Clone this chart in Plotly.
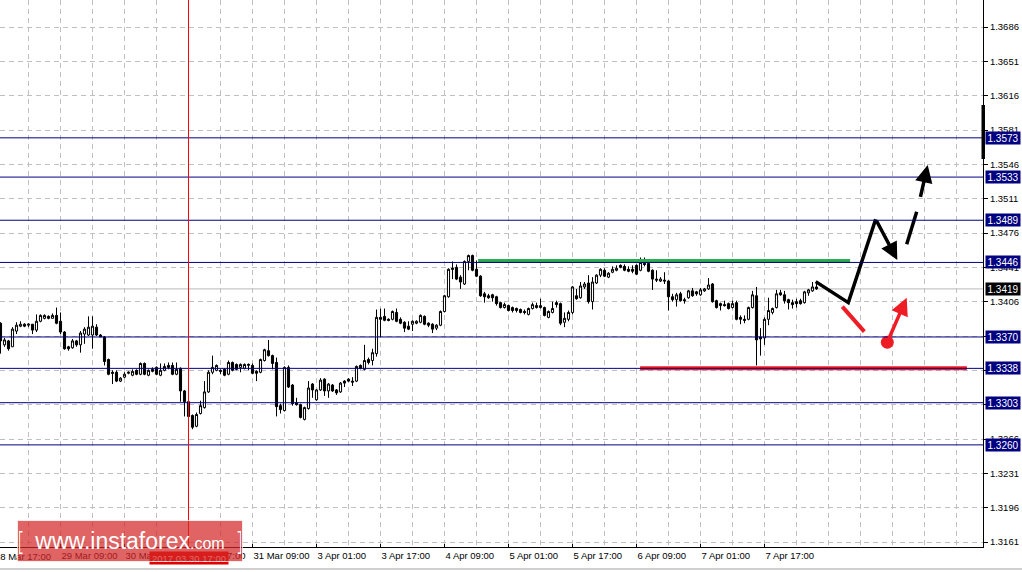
import plotly.graph_objects as go

# ---------------- data (H1 chart) ----------------
opens = [1.3384, 1.3362, 1.3366, 1.3360, 1.3376, 1.3381, 1.3383, 1.3382, 1.3383, 1.3377,
         1.3386, 1.3389, 1.3391, 1.3389, 1.3392, 1.3386, 1.3375, 1.3360, 1.3359, 1.3366,
         1.3362, 1.3373, 1.3372, 1.3372, 1.3380, 1.3372, 1.3370, 1.3347, 1.3334, 1.3334,
         1.3325, 1.3329, 1.3333, 1.3331, 1.3336, 1.3332, 1.3343, 1.3331, 1.3337, 1.3339,
         1.3331, 1.3336, 1.3341, 1.3341, 1.3332, 1.3338, 1.3315, 1.3304, 1.3290, 1.3279,
         1.3292, 1.3298, 1.3314, 1.3334, 1.3336, 1.3336, 1.3337, 1.3332, 1.3344, 1.3342,
         1.3339, 1.3338, 1.3341, 1.3341, 1.3335, 1.3334, 1.3346, 1.3356, 1.3351, 1.3344,
         1.3300, 1.3295, 1.3339, 1.3321, 1.3303, 1.3301, 1.3286, 1.3297, 1.3322, 1.3306,
         1.3316, 1.3327, 1.3315, 1.3321, 1.3316, 1.3314, 1.3325, 1.3327, 1.3325, 1.3325,
         1.3341, 1.3337, 1.3347, 1.3346, 1.3353, 1.3390, 1.3391, 1.3388, 1.3388, 1.3395,
         1.3388, 1.3385, 1.3381, 1.3383, 1.3384, 1.3385, 1.3391, 1.3384, 1.3383, 1.3379,
         1.3382, 1.3396, 1.3411, 1.3440, 1.3441, 1.3431, 1.3424, 1.3447, 1.3453, 1.3439,
         1.3432, 1.3414, 1.3412, 1.3413, 1.3411, 1.3405, 1.3400, 1.3402, 1.3400, 1.3399,
         1.3398, 1.3396, 1.3393, 1.3399, 1.3402, 1.3400, 1.3400, 1.3390, 1.3395, 1.3405,
         1.3404, 1.3385, 1.3388, 1.3395, 1.3412, 1.3410, 1.3421, 1.3425, 1.3406, 1.3425,
         1.3433, 1.3438, 1.3431, 1.3436, 1.3438, 1.3443, 1.3442, 1.3439, 1.3439, 1.3443,
         1.3438, 1.3445, 1.3445, 1.3438, 1.3429, 1.3427, 1.3428, 1.3427, 1.3411, 1.3408,
         1.3414, 1.3408, 1.3410, 1.3417, 1.3416, 1.3413, 1.3417, 1.3419, 1.3424, 1.3407,
         1.3404, 1.3403, 1.3404, 1.3400, 1.3405, 1.3390, 1.3388, 1.3388, 1.3400, 1.3412,
         1.3370, 1.3369, 1.3388, 1.3395, 1.3400, 1.3415, 1.3413, 1.3408, 1.3405, 1.3406,
         1.3407, 1.3405, 1.3415, 1.3417, 1.3421]

highs = [1.3385, 1.3369, 1.3367, 1.3380, 1.3385, 1.3386, 1.3384, 1.3384, 1.3383, 1.3393,
         1.3393, 1.3393, 1.3392, 1.3394, 1.3400, 1.3395, 1.3376, 1.3361, 1.3368, 1.3367,
         1.3376, 1.3380, 1.3391, 1.3391, 1.3383, 1.3373, 1.3371, 1.3348, 1.3336, 1.3336,
         1.3329, 1.3334, 1.3335, 1.3337, 1.3337, 1.3344, 1.3344, 1.3337, 1.3339, 1.3340,
         1.3343, 1.3343, 1.3344, 1.3344, 1.3344, 1.3339, 1.3316, 1.3305, 1.3291, 1.3293,
         1.3305, 1.3325, 1.3336, 1.3351, 1.3342, 1.3337, 1.3338, 1.3346, 1.3345, 1.3343,
         1.3343, 1.3343, 1.3343, 1.3343, 1.3336, 1.3348, 1.3358, 1.3367, 1.3352, 1.3349,
         1.3302, 1.3340, 1.3341, 1.3322, 1.3308, 1.3302, 1.3299, 1.3325, 1.3323, 1.3317,
         1.3328, 1.3328, 1.3323, 1.3322, 1.3317, 1.3324, 1.3326, 1.3328, 1.3329, 1.3341,
         1.3342, 1.3362, 1.3349, 1.3358, 1.3398, 1.3399, 1.3399, 1.3389, 1.3397, 1.3399,
         1.3390, 1.3386, 1.3386, 1.3387, 1.3387, 1.3393, 1.3392, 1.3385, 1.3384, 1.3383,
         1.3397, 1.3413, 1.3440, 1.3447, 1.3444, 1.3433, 1.3448, 1.3454, 1.3454, 1.3448,
         1.3433, 1.3416, 1.3414, 1.3414, 1.3412, 1.3406, 1.3405, 1.3403, 1.3401, 1.3400,
         1.3399, 1.3398, 1.3400, 1.3405, 1.3405, 1.3409, 1.3401, 1.3397, 1.3406, 1.3407,
         1.3405, 1.3395, 1.3397, 1.3422, 1.3419, 1.3426, 1.3426, 1.3433, 1.3431, 1.3434,
         1.3440, 1.3440, 1.3436, 1.3442, 1.3443, 1.3444, 1.3444, 1.3442, 1.3443, 1.3444,
         1.3451, 1.3451, 1.3449, 1.3439, 1.3438, 1.3431, 1.3436, 1.3428, 1.3414, 1.3415,
         1.3416, 1.3410, 1.3418, 1.3420, 1.3417, 1.3420, 1.3420, 1.3430, 1.3425, 1.3408,
         1.3405, 1.3407, 1.3405, 1.3407, 1.3407, 1.3392, 1.3392, 1.3401, 1.3417, 1.3421,
         1.3379, 1.3390, 1.3410, 1.3400, 1.3418, 1.3418, 1.3417, 1.3409, 1.3408, 1.3409,
         1.3409, 1.3417, 1.3419, 1.3426, 1.3426]

lows = [1.3353, 1.3360, 1.3356, 1.3360, 1.3373, 1.3380, 1.3380, 1.3380, 1.3373, 1.3375,
        1.3385, 1.3388, 1.3388, 1.3389, 1.3383, 1.3373, 1.3357, 1.3356, 1.3358, 1.3360,
        1.3354, 1.3363, 1.3371, 1.3358, 1.3371, 1.3370, 1.3341, 1.3331, 1.3322, 1.3324,
        1.3324, 1.3328, 1.3332, 1.3330, 1.3331, 1.3331, 1.3331, 1.3330, 1.3334, 1.3331,
        1.3330, 1.3335, 1.3337, 1.3331, 1.3331, 1.3304, 1.3289, 1.3288, 1.3276, 1.3278,
        1.3291, 1.3297, 1.3313, 1.3332, 1.3335, 1.3332, 1.3330, 1.3331, 1.3335, 1.3336,
        1.3334, 1.3337, 1.3336, 1.3332, 1.3325, 1.3333, 1.3345, 1.3350, 1.3337, 1.3289,
        1.3292, 1.3294, 1.3318, 1.3300, 1.3300, 1.3287, 1.3285, 1.3296, 1.3308, 1.3305,
        1.3315, 1.3310, 1.3308, 1.3314, 1.3311, 1.3313, 1.3319, 1.3324, 1.3320, 1.3324,
        1.3337, 1.3336, 1.3342, 1.3341, 1.3350, 1.3370, 1.3386, 1.3386, 1.3387, 1.3385,
        1.3383, 1.3375, 1.3377, 1.3376, 1.3383, 1.3384, 1.3382, 1.3380, 1.3374, 1.3377,
        1.3381, 1.3395, 1.3410, 1.3429, 1.3428, 1.3419, 1.3423, 1.3438, 1.3437, 1.3431,
        1.3411, 1.3405, 1.3409, 1.3406, 1.3402, 1.3399, 1.3399, 1.3396, 1.3395, 1.3395,
        1.3394, 1.3393, 1.3392, 1.3398, 1.3399, 1.3399, 1.3391, 1.3389, 1.3394, 1.3400,
        1.3382, 1.3380, 1.3386, 1.3393, 1.3408, 1.3409, 1.3419, 1.3404, 1.3398, 1.3424,
        1.3431, 1.3431, 1.3430, 1.3435, 1.3437, 1.3440, 1.3437, 1.3436, 1.3435, 1.3433,
        1.3437, 1.3442, 1.3436, 1.3418, 1.3426, 1.3426, 1.3424, 1.3397, 1.3406, 1.3401,
        1.3406, 1.3404, 1.3409, 1.3411, 1.3412, 1.3412, 1.3416, 1.3418, 1.3405, 1.3399,
        1.3397, 1.3401, 1.3398, 1.3399, 1.3387, 1.3383, 1.3384, 1.3387, 1.3399, 1.3341,
        1.3351, 1.3362, 1.3382, 1.3393, 1.3399, 1.3412, 1.3404, 1.3398, 1.3399, 1.3400,
        1.3403, 1.3404, 1.3412, 1.3416, 1.3418]

closes = [1.3366, 1.3367, 1.3358, 1.3378, 1.3382, 1.3383, 1.3381, 1.3383, 1.3377, 1.3386,
          1.3392, 1.3392, 1.3389, 1.3392, 1.3384, 1.3375, 1.3358, 1.3358, 1.3366, 1.3362,
          1.3374, 1.3378, 1.3380, 1.3381, 1.3372, 1.3370, 1.3345, 1.3332, 1.3333, 1.3325,
          1.3328, 1.3332, 1.3334, 1.3335, 1.3332, 1.3343, 1.3332, 1.3336, 1.3335, 1.3332,
          1.3336, 1.3340, 1.3339, 1.3332, 1.3337, 1.3315, 1.3304, 1.3289, 1.3278, 1.3291,
          1.3300, 1.3314, 1.3334, 1.3339, 1.3341, 1.3335, 1.3331, 1.3344, 1.3336, 1.3337,
          1.3342, 1.3342, 1.3342, 1.3333, 1.3333, 1.3347, 1.3357, 1.3351, 1.3343, 1.3299,
          1.3296, 1.3339, 1.3319, 1.3302, 1.3301, 1.3288, 1.3298, 1.3318, 1.3316, 1.3316,
          1.3326, 1.3315, 1.3322, 1.3315, 1.3313, 1.3323, 1.3323, 1.3325, 1.3324, 1.3340,
          1.3338, 1.3346, 1.3344, 1.3354, 1.3390, 1.3388, 1.3387, 1.3387, 1.3396, 1.3386,
          1.3384, 1.3379, 1.3378, 1.3386, 1.3386, 1.3392, 1.3383, 1.3382, 1.3378, 1.3382,
          1.3396, 1.3412, 1.3439, 1.3439, 1.3429, 1.3426, 1.3447, 1.3453, 1.3438, 1.3432,
          1.3412, 1.3411, 1.3410, 1.3410, 1.3404, 1.3400, 1.3403, 1.3397, 1.3397, 1.3397,
          1.3395, 1.3395, 1.3399, 1.3403, 1.3400, 1.3402, 1.3392, 1.3396, 1.3399, 1.3403,
          1.3384, 1.3389, 1.3395, 1.3421, 1.3409, 1.3422, 1.3424, 1.3406, 1.3426, 1.3433,
          1.3439, 1.3432, 1.3435, 1.3439, 1.3440, 1.3441, 1.3438, 1.3437, 1.3437, 1.3434,
          1.3446, 1.3444, 1.3437, 1.3429, 1.3428, 1.3429, 1.3427, 1.3411, 1.3408, 1.3413,
          1.3407, 1.3407, 1.3417, 1.3412, 1.3414, 1.3418, 1.3419, 1.3423, 1.3406, 1.3400,
          1.3402, 1.3402, 1.3399, 1.3404, 1.3388, 1.3388, 1.3387, 1.3400, 1.3413, 1.3367,
          1.3368, 1.3388, 1.3397, 1.3399, 1.3414, 1.3413, 1.3407, 1.3405, 1.3403, 1.3404,
          1.3404, 1.3416, 1.3418, 1.3421, 1.3419]

# x axis: bar index (H1 bars), labelled every 16 bars
label_bars = [16, 32, 48, 64, 80, 96, 112, 128, 144, 160, 176, 192]
label_text = ["29 Mar 09:00", "30 Mar 01:00", "30 Mar 17:00", "31 Mar 09:00",
              "3 Apr 01:00", "3 Apr 17:00", "4 Apr 09:00", "5 Apr 01:00",
              "5 Apr 17:00", "6 Apr 09:00", "7 Apr 01:00", "7 Apr 17:00"]
first_label = "28 Mar 17:00"
grid_bars = [8, 24, 40, 56, 72, 88, 104, 120, 136, 152, 168, 184, 200,
             208, 216, 224, 232, 240]

# y axis price ticks
price_ticks = [1.3686, 1.3651, 1.3616, 1.3581, 1.3546, 1.3511, 1.3476, 1.3441,
               1.3406, 1.3371, 1.3336, 1.3301, 1.3266, 1.3231, 1.3196, 1.3161]
price_range = [1.315590, 1.371352]

# horizontal levels
levels = [1.3573, 1.3533, 1.3489, 1.3446, 1.3370, 1.3338, 1.3303, 1.3260]
bid_price = 1.3419

# analyst drawings (bar index, price)
green_x = [120.4, 213.4]
green_y = [1.34475, 1.34475]
red_x = [160.9, 242.6]
red_y = [1.3338, 1.3338]
path_x = [204.8, 212.95, 219.8]
path_y = [1.34264, 1.34050, 1.34900]
path_tip = (225.2, 1.34485)
dash_x = [227.55, 230.05]
dash_y = [1.34645, 1.34977]
dash_from = (230.9, 1.35114)
dash_tip = (232.8, 1.35453)
redline_x = [211.45, 216.95]
redline_y = [1.34009, 1.33754]
red_dot = (222.7, 1.33646)
red_tip = (227.55, 1.34100)
vline_bar = 48
marker_bar_top = 1.36065
marker_bar_bottom = 1.35514

# ---------------- figure ----------------
bars = list(range(1, len(opens) + 1))
NAVY = "#000080"
GRID = "#c0c0c0"
FONT = "Liberation Sans"
FS = 9.5

fig = go.Figure()
fig.add_trace(go.Candlestick(
    x=bars, open=opens, high=highs, low=lows, close=closes,
    increasing=dict(line=dict(color="black", width=1), fillcolor="white"),
    decreasing=dict(line=dict(color="black", width=1), fillcolor="black"),
    whiskerwidth=0, hoverinfo="skip", showlegend=False))

fig.add_trace(go.Scatter(x=green_x, y=green_y, mode="lines",
                         line=dict(color="#2eac50", width=4), hoverinfo="skip"))
fig.add_trace(go.Scatter(x=red_x, y=red_y, mode="lines",
                         line=dict(color="#ee1c25", width=4), hoverinfo="skip"))
fig.add_trace(go.Scatter(x=path_x, y=path_y, mode="lines",
                         line=dict(color="black", width=3.5), hoverinfo="skip"))
fig.add_trace(go.Scatter(x=dash_x, y=dash_y, mode="lines",
                         line=dict(color="black", width=3.5), hoverinfo="skip"))
fig.add_trace(go.Scatter(x=redline_x, y=redline_y, mode="lines",
                         line=dict(color="#ee1c25", width=4), hoverinfo="skip"))
fig.add_trace(go.Scatter(x=[red_dot[0]], y=[red_dot[1]], mode="markers",
                         marker=dict(color="#ee1c25", size=13), hoverinfo="skip"))

shapes = []
for lv in levels:
    shapes.append(dict(type="line", xref="paper", x0=0, x1=1, yref="y", y0=lv, y1=lv,
                       line=dict(color=NAVY, width=1)))
shapes.append(dict(type="line", xref="paper", x0=0, x1=1, yref="y", y0=bid_price, y1=bid_price,
                   line=dict(color="#b8b8b8", width=1), layer="below"))
shapes.append(dict(type="line", xref="x", x0=vline_bar, x1=vline_bar, yref="paper", y0=0, y1=1,
                   line=dict(color="red", width=1)))
shapes.append(dict(type="rect", xref="paper", x0=981.5 / 983, x1=985 / 983, yref="y",
                   y0=marker_bar_bottom, y1=marker_bar_top, fillcolor="black",
                   line=dict(width=0)))
# window frame line under the time scale
shapes.append(dict(type="line", xref="paper", x0=0, x1=1022 / 983, yref="paper",
                   y0=-22 / 547, y1=-22 / 547, line=dict(color="#a0a0a0", width=1)))

annotations = []
annotations.append(dict(x=path_tip[0], y=path_tip[1], ax=path_x[-1], ay=path_y[-1],
                        xref="x", yref="y", axref="x", ayref="y", showarrow=True, text="",
                        arrowhead=2, arrowsize=1, arrowwidth=3.5, arrowcolor="black", standoff=0))
annotations.append(dict(x=dash_tip[0], y=dash_tip[1], ax=dash_from[0], ay=dash_from[1],
                        xref="x", yref="y", axref="x", ayref="y", showarrow=True, text="",
                        arrowhead=2, arrowsize=1, arrowwidth=3.5, arrowcolor="black", standoff=0))
annotations.append(dict(x=red_tip[0], y=red_tip[1], ax=red_dot[0], ay=red_dot[1],
                        xref="x", yref="y", axref="x", ayref="y", showarrow=True, text="",
                        arrowhead=2, arrowsize=1, arrowwidth=3.5, arrowcolor="#ee1c25", standoff=0))

for lv in levels:
    annotations.append(dict(xref="paper", x=1, xanchor="left", xshift=2, yref="y", y=lv,
                            yanchor="middle", text=f"{lv:.4f}", showarrow=False,
                            bgcolor=NAVY, font=dict(color="white", size=FS + 0.5, family=FONT),
                            width=34, height=12, borderpad=0))
annotations.append(dict(xref="paper", x=1, xanchor="left", xshift=2, yref="y", y=bid_price,
                        yanchor="middle", text=f"{bid_price:.4f}", showarrow=False,
                        bgcolor="black", font=dict(color="white", size=FS + 0.5, family=FONT),
                        width=34, height=12, borderpad=0))

annotations.append(dict(xref="paper", x=-3.5 / 983, xanchor="left", xshift=-3, yref="paper", y=0,
                        yanchor="top", yshift=-3, text=first_label, showarrow=False,
                        font=dict(color="black", size=FS, family=FONT), borderpad=0))
annotations.append(dict(xref="x", x=vline_bar, xanchor="center", yref="paper", y=0,
                        yanchor="top", yshift=-4, text="2017.03.30 17:00", showarrow=False,
                        bgcolor="#e00000", font=dict(color="white", size=FS, family=FONT),
                        width=78, height=12, borderpad=0))
annotations.append(dict(xref="paper", x=17 / 983, xanchor="left", yref="paper",
                        y=(547 - 520) / 547, yanchor="top",
                        text="[  www.instaforex<span style='font-size:16px'>.com</span>  ]",
                        showarrow=False, width=222, height=38,
                        bgcolor="rgba(212,40,40,0.72)", bordercolor="rgba(255,255,255,0.7)",
                        borderwidth=1, font=dict(color="white", size=23, family=FONT)))

fig.update_layout(
    width=1022, height=572,
    margin=dict(l=0, r=39, t=0, b=25),
    paper_bgcolor="white", plot_bgcolor="white",
    showlegend=False, hovermode=False,
    shapes=shapes, annotations=annotations,
    boxgap=0.25,
    xaxis=dict(range=[0.875, 246.625], rangeslider=dict(visible=False),
               tickmode="array", tickvals=label_bars, ticktext=label_text,
               ticklabelposition="outside right", tickangle=0,
               ticks="inside", ticklen=3, tickcolor="black",
               showgrid=True, gridcolor=GRID, griddash="5px,4px", gridwidth=1,
               minor=dict(tickmode="array", tickvals=grid_bars, showgrid=True,
                          gridcolor=GRID, griddash="5px,4px", ticks=""),
               showline=True, linecolor="black", linewidth=1, zeroline=False,
               automargin=False,
               tickfont=dict(color="black", size=FS, family=FONT)),
    yaxis=dict(side="right", range=price_range,
               tickmode="array", tickvals=price_ticks,
               ticktext=[f"{p:.4f}" for p in price_ticks],
               ticks="outside", ticklen=4, tickcolor="black",
               showgrid=True, gridcolor=GRID, griddash="5px,4px", gridwidth=1,
               showline=True, linecolor="black", linewidth=1, zeroline=False,
               automargin=False,
               tickfont=dict(color="black", size=FS, family=FONT)),
)

fig.write_html("out.html", config={"displayModeBar": False, "staticPlot": True})
with open("out.html", "r", encoding="utf-8") as fh:
    page = fh.read()
page = page.replace("<head>", "<head><style>html,body{margin:0;padding:0;overflow:hidden;}</style>", 1)
with open("out.html", "w", encoding="utf-8") as fh:
    fh.write(page)
